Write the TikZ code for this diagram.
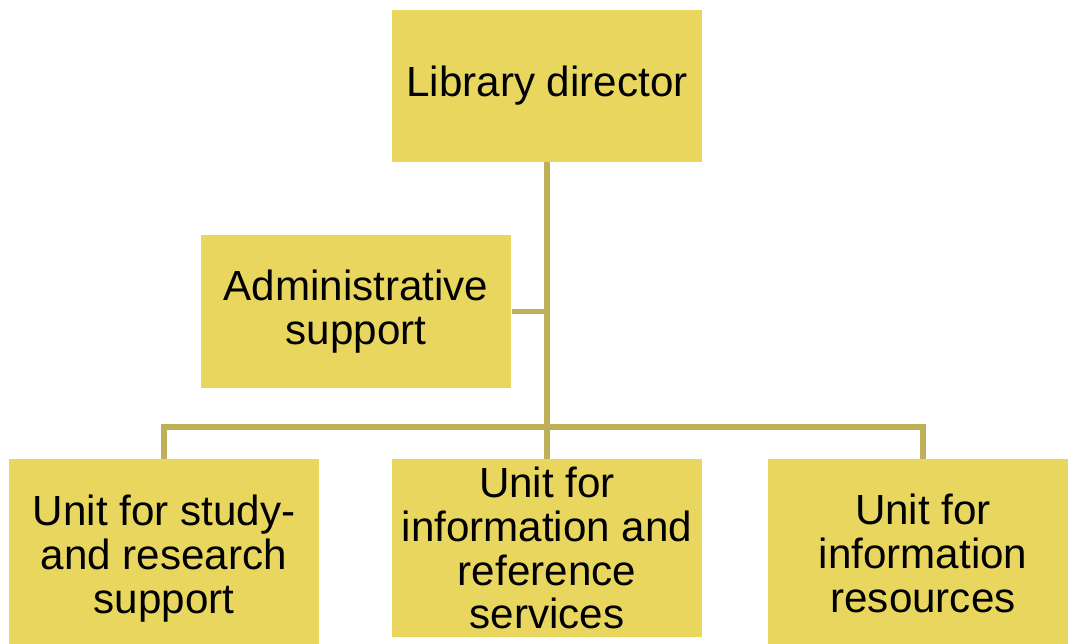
\documentclass[tikz,border=0pt]{standalone}
\usepackage{fontspec}
\setmainfont{Liberation Sans}
\usepackage{xcolor}
\usepackage{tikz}
\usetikzlibrary{positioning}
\definecolor{boxyellow}{RGB}{233,214,94}
\definecolor{lineolive}{RGB}{190,176,88}

\begin{document}
\begin{tikzpicture}[x=0.02cm, y=-0.02cm,
            box/.style={rectangle, fill=boxyellow, minimum width=6.22cm, minimum height=3.04cm, inner sep=0pt, align=center, font=\fontsize{24}{25}\selectfont},
            link/.style={draw=lineolive, line width=2.9pt}]
            \useasboundingbox (0,0) rectangle (1068,643);

            \node[box] (dir) at (547,86) {\raisebox{-0.1cm}{Library director}};
            \node[box, minimum height=3.06cm] (admin) at (356,311.5) {Administrative\\support};
            \node[box, minimum height=3.76cm] (study) at (164,553) {\\[-0.06cm]Unit for study-\\and research\\support};
            \node[box, minimum height=3.56cm] (ref) at (547,548) {Unit for\\information and\\reference\\services};
            \node[box, minimum height=3.76cm] (res) at (923,553) {Unit for\\information\\resources};

            \coordinate (hub) at (547,427);

            \draw[link] (dir) -- (hub);
            \draw[link] (admin) -- (admin -| hub);
            \draw[link] (study) |- (hub) -| (res);
            \draw[link] (hub) -- (ref);
        \end{tikzpicture}
\end{document}
